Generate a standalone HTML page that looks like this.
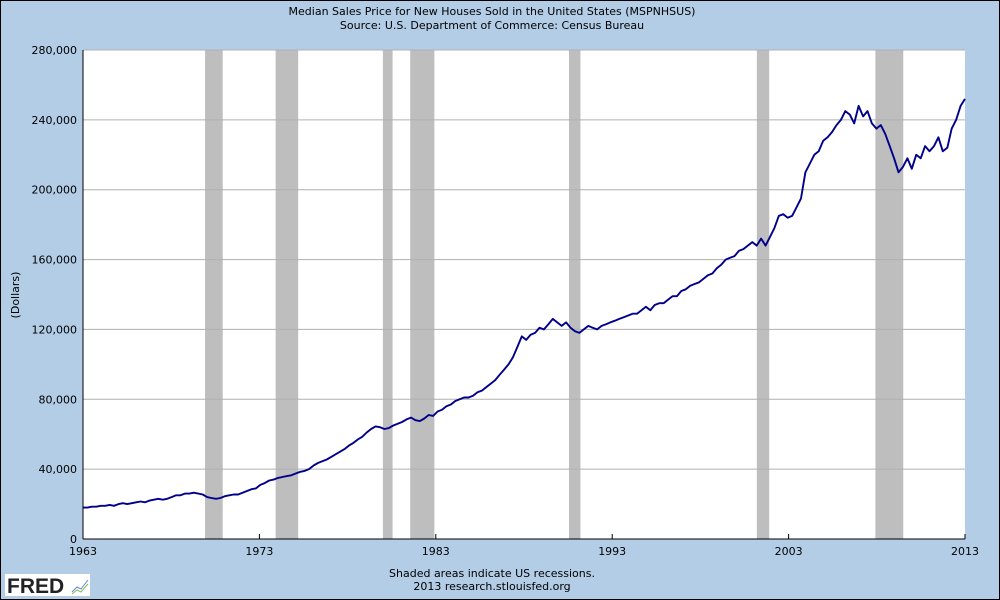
<!DOCTYPE html>
<html><head><meta charset="utf-8"><style>
body{margin:0;background:#B3CDE6;}
svg{display:block;font-family:"DejaVu Sans","Liberation Sans",sans-serif;}
</style></head><body>
<svg id="chart" width="1000" height="600" viewBox="0 0 1000 600">
<rect x="0.5" y="0.5" width="999" height="599" fill="#B3CDE6" stroke="#000"/>
<text x="492" y="15" font-size="11" text-anchor="middle">Median Sales Price for New Houses Sold in the United States (MSPNHSUS)</text>
<text x="492" y="29" font-size="11" text-anchor="middle">Source: U.S. Department of Commerce: Census Bureau</text>
<rect x="83" y="50" width="882" height="489" fill="#fff"/>
<g id="rec"></g>
<g id="grid"></g>
<g id="series"></g>
<line x1="83" y1="50" x2="83" y2="539" stroke="#000"/>
<line x1="83" y1="539" x2="965" y2="539" stroke="#000"/>
<g id="yt"></g>
<g id="xt"></g>
<text transform="translate(19,295) rotate(-90)" font-size="11" text-anchor="middle">(Dollars)</text>
<text x="492" y="577" font-size="11" text-anchor="middle">Shaded areas indicate US recessions.</text>
<text x="492" y="590" font-size="11" text-anchor="middle">2013 research.stlouisfed.org</text>
<g>
<rect x="5" y="574" width="85" height="22" fill="#fff"/>
<text x="7" y="593" font-size="21" font-weight="bold" fill="#222" font-family="Liberation Sans,sans-serif">FRED</text>
<polyline points="72,592 77,587 81,589 88,580" fill="none" stroke="#5b8ccc" stroke-width="1"/>
<polyline points="72,594 77,590 81,592 88,584" fill="none" stroke="#8cb860" stroke-width="1"/>
</g>
</svg>
<script>
const recessions=[[1969.92,1970.92],[1973.92,1975.2],[1980.0,1980.55],[1981.55,1982.92],[1990.55,1991.2],[2001.2,2001.9],[2007.92,2009.5]];
const yTicks=[0,40000,80000,120000,160000,200000,240000,280000];
const xTicks=[1963,1973,1983,1993,2003,2013];
const startYear=1963;
const endYear=2013;
const prices=[18000,18000,18500,18500,19000,19000,19500,19000,20000,20500,20000,20500,21000,21500,21000,22000,22500,23000,22500,23000,24000,25000,25000,26000,26000,26500,26000,25500,24000,23500,23000,23500,24500,25000,25500,25500,26500,27500,28500,29000,31000,32000,33500,34000,35000,35500,36000,36500,37500,38500,39000,40000,42000,43500,44500,45500,47000,48500,50000,51500,53500,55000,57000,58500,61000,63000,64500,64000,63000,63500,65000,66000,67000,68500,69500,68000,67500,69000,71000,70500,73000,74000,76000,77000,79000,80000,81000,81000,82000,84000,85000,87000,89000,91000,94000,97000,100000,104000,110000,116000,114000,117000,118000,121000,120000,123000,126000,124000,122000,124000,121000,119000,118000,120000,122000,121000,120000,122000,123000,124000,125000,126000,127000,128000,129000,129000,131000,133000,131000,134000,135000,135000,137000,139000,139000,142000,143000,145000,146000,147000,149000,151000,152000,155000,157000,160000,161000,162000,165000,166000,168000,170000,168000,172000,168000,173000,178000,185000,186000,184000,185000,190000,195000,210000,215000,220000,222000,228000,230000,233000,237000,240000,245000,243000,238000,248000,242000,245000,238000,235000,237000,232000,225000,218000,210000,213000,218000,212000,220000,218000,225000,222000,225000,230000,222000,224000,235000,240000,248000,252000];
const NS="http://www.w3.org/2000/svg";
const X=y=>83+(y-1963)*(882/50);
const Y=v=>539-v*489/280000;
function mk(t,a,p){const e=document.createElementNS(NS,t);for(const k in a)e.setAttribute(k,a[k]);p.appendChild(e);return e;}
const rec=document.getElementById('rec');
recessions.forEach(r=>{const e=mk('rect',{x:X(r[0]),y:50,width:X(r[1])-X(r[0]),height:489,fill:'#BEBEBE'},rec);

});
const grid=document.getElementById('grid'),yt=document.getElementById('yt');
yTicks.forEach(v=>{if(v>0){const l=mk('line',{x1:83,x2:965,y1:Y(v),y2:Y(v),stroke:'#B0B0B0'},grid);

}
const t=mk('text',{x:77,y:Y(v)+4,'font-size':11,'text-anchor':'end'},yt);t.textContent=v.toLocaleString('en-US');

});
const xt=document.getElementById('xt');
xTicks.forEach(y=>{const l=mk('line',{x1:X(y),x2:X(y),y1:534,y2:539,stroke:'#000'},xt);


const t=mk('text',{x:X(y),y:555,'font-size':11,'text-anchor':'middle'},xt);t.textContent=y;

});
const step=(endYear-startYear)/(prices.length-1);
const pts=prices.map((v,i)=>X(startYear+i*step).toFixed(1)+','+Y(v).toFixed(1)).join(' ');
const pl=mk('polyline',{points:pts,fill:'none',stroke:'#00008B','stroke-width':1.9,'stroke-linejoin':'round'},document.getElementById('series'));


</script>
</body></html>
